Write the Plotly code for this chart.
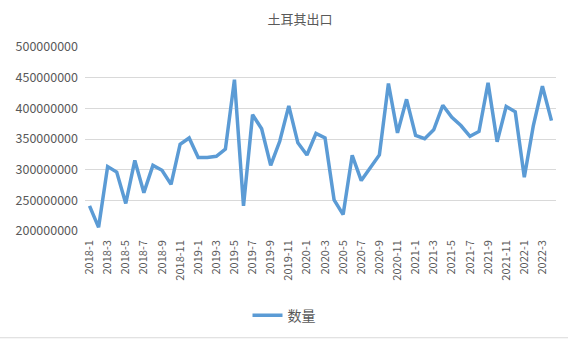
import plotly.graph_objects as go

# Monthly categories 2018-1 .. 2022-4
months = [f"{y}-{m}" for y in range(2018, 2023) for m in range(1, 13)][:52]

# Export quantity per month
quantity = [
    241e6, 206e6, 305e6, 296e6, 245e6, 315e6, 262.5e6, 307e6, 299e6, 276e6,
    341.5e6, 351.7e6, 319.7e6, 319.7e6, 321.8e6, 333.5e6, 446.8e6, 241e6,
    389.6e6, 366.7e6, 307e6, 346.3e6, 404e6, 343.7e6, 324e6, 359e6, 351.7e6,
    250.8e6, 226.8e6, 323.4e6, 282.2e6, 302.6e6, 324e6, 440.4e6, 360e6,
    414.7e6, 356e6, 350.6e6, 365e6, 405e6, 385.4e6, 372e6, 354.3e6, 362.3e6,
    441.5e6, 345.4e6, 403e6, 394.4e6, 287.7e6, 372e6, 436e6, 380e6,
]

y_ticks = [200000000, 250000000, 300000000, 350000000, 400000000, 450000000, 500000000]
x_ticks = months[::2]

W, H = 568, 344
L, R, T, B = 85, 12, 47, 110
pw, ph = W - L - R, H - T - B

text_color = "#595959"
font_family = "Noto Sans CJK SC, Noto Sans, sans-serif"

fig = go.Figure()
fig.add_trace(go.Scatter(
    x=months, y=quantity, mode="lines", name="数量",
    line=dict(color="#5B9BD5", width=3.5),
))

fig.update_layout(
    width=W, height=H,
    margin=dict(l=L, r=R, t=T, b=B),
    paper_bgcolor="white", plot_bgcolor="white",
    font=dict(family=font_family, color=text_color),
    title=dict(text="土耳其出口", x=300 / W, xanchor="center", xref="container",
               y=1 - 19 / H, yanchor="middle", yref="container",
               font=dict(size=13, color=text_color)),
    showlegend=True,
    legend=dict(orientation="h", x=(284 - L) / pw, xanchor="center",
                y=(234 - 320) / ph, yanchor="middle",
                font=dict(size=14, color=text_color), itemwidth=30),
    xaxis=dict(type="category", range=[-0.5, len(months) - 0.5],
               tickmode="array", tickvals=x_ticks, ticktext=x_ticks,
               tickangle=-90, tickfont=dict(size=11, color=text_color),
               showgrid=False, showline=False, zeroline=False, ticks="",
               ticklabelstandoff=6),
    yaxis=dict(range=[200000000, 500000000], tickmode="array", tickvals=y_ticks,
               ticktext=[str(v) for v in y_ticks],
               tickfont=dict(size=12.5, color=text_color),
               showgrid=True, gridcolor="#D9D9D9", gridwidth=1,
               zeroline=False, showline=False, ticks="", ticklabelstandoff=6),
    shapes=[dict(type="line", xref="paper", yref="paper",
                 x0=-L / pw, x1=(W - L) / pw,
                 y0=(T + ph - 342.5) / ph, y1=(T + ph - 342.5) / ph,
                 line=dict(color="#D9D9D9", width=1))],
)

fig.write_html("out.html")
